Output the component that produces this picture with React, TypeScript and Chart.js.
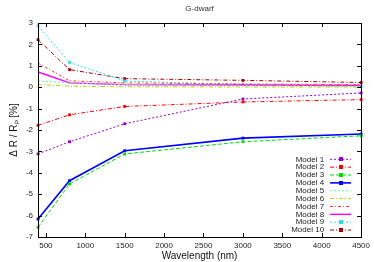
import React, { useEffect, useRef } from "react";
import { Chart, registerables } from "chart.js";

Chart.register(...registerables);

const wavelengths = [400, 800, 1500, 3000, 4500];
const model1 = [-3.12, -2.55, -1.71, -0.55, -0.27];
const model2 = [-1.78, -1.29, -0.9, -0.69, -0.58];
const model3 = [-6.55, -4.52, -3.12, -2.55, -2.27];
const model4 = [-6.16, -4.37, -2.97, -2.38, -2.19];
const model5 = [0.3, 0.2, 0.12, 0.07, 0.05];
const model6 = [0.12, 0.05, 0.02, 0.01, 0.01];
const model7 = [1.13, 0.3, 0.2, 0.15, 0.12];
const model8 = [0.71, 0.2, 0.12, 0.1, 0.08];
const model9 = [2.87, 1.16, 0.29, 0.12, 0.04];
const model10 = [2.22, 0.82, 0.4, 0.32, 0.22];
const xTicks = [500, 1000, 1500, 2000, 2500, 3000, 3500, 4000, 4500];
const title = "G-dwarf";

const FONT = "'Liberation Sans', Arial, sans-serif";

type Style = { label: string; values: number[]; color: string; dash: number[]; width: number; point: boolean };

const series: Style[] = [
  { label: "Model 1", values: model1, color: "#9400d3", dash: [2, 2], width: 1, point: true },
  { label: "Model 2", values: model2, color: "#ff0000", dash: [4, 2, 1, 2], width: 1, point: true },
  { label: "Model 3", values: model3, color: "#00dd00", dash: [4, 2], width: 1, point: true },
  { label: "Model 4", values: model4, color: "#0000ff", dash: [], width: 1.6, point: true },
  { label: "Model 5", values: model5, color: "#55f5a5", dash: [2, 2], width: 1, point: false },
  { label: "Model 6", values: model6, color: "#c8c800", dash: [4, 2, 1, 2], width: 1, point: false },
  { label: "Model 7", values: model7, color: "#ff3030", dash: [3, 2, 1, 2], width: 1, point: false },
  { label: "Model 8", values: model8, color: "#ff00ff", dash: [], width: 1.4, point: false },
  { label: "Model 9", values: model9, color: "#30dcdc", dash: [2, 2], width: 1, point: true },
  { label: "Model 10", values: model10, color: "#a00000", dash: [4, 2, 1, 2], width: 1, point: true },
];

const framePlugin = {
  id: "frame",
  afterDraw(chart: any) {
    const { ctx, chartArea: a } = chart;
    const xs = chart.scales.x;
    const ys = chart.scales.y;
    ctx.save();
    ctx.strokeStyle = "#000";
    ctx.lineWidth = 1;
    ctx.setLineDash([]);
    ctx.strokeRect(Math.round(a.left) + 0.5, Math.round(a.top) + 0.5, Math.round(a.right - a.left), Math.round(a.bottom - a.top));
    const t = 4;
    ctx.beginPath();
    xs.ticks.forEach((tk: any) => {
      const px = Math.round(xs.getPixelForValue(tk.value)) + 0.5;
      ctx.moveTo(px, a.bottom);
      ctx.lineTo(px, a.bottom - t);
      ctx.moveTo(px, a.top);
      ctx.lineTo(px, a.top + t);
    });
    ys.ticks.forEach((tk: any) => {
      const py = Math.round(ys.getPixelForValue(tk.value)) + 0.5;
      ctx.moveTo(a.left, py);
      ctx.lineTo(a.left + t, py);
      ctx.moveTo(a.right, py);
      ctx.lineTo(a.right - t, py);
    });
    ctx.stroke();

    // title
    ctx.fillStyle = "#333";
    ctx.font = `8px ${FONT}`;
    ctx.textAlign = "center";
    ctx.textBaseline = "middle";
    ctx.fillText(title, (a.left + a.right) / 2, 9);

    // legend
    const rowH = 7.86;
    const firstY = a.bottom - 77.7;
    chart.data.datasets.forEach((ds: any, i: number) => {
      const y = firstY + i * rowH;
      ctx.fillStyle = "#222";
      ctx.font = `8px ${FONT}`;
      ctx.textAlign = "right";
      ctx.textBaseline = "middle";
      ctx.fillText(ds.label, a.right - 37, y);
      ctx.strokeStyle = ds.borderColor;
      ctx.lineWidth = ds.borderWidth;
      ctx.setLineDash(ds.borderDash || []);
      ctx.beginPath();
      ctx.moveTo(a.right - 31, y);
      ctx.lineTo(a.right - 10, y);
      ctx.stroke();
      ctx.setLineDash([]);
      if (ds.pointRadius > 0) {
        ctx.fillStyle = ds.borderColor;
        ctx.fillRect(Math.round(a.right - 22.5), Math.round(y - 2), 4, 4);
      }
    });
    ctx.restore();
  },
};

export default function App() {
  const ref = useRef<HTMLCanvasElement | null>(null);
  useEffect(() => {
    document.body.style.margin = "0";
    const canvas = ref.current;
    if (!canvas) return;
    const chart = new Chart(canvas, {
      type: "line",
      data: {
        datasets: series.map((s) => ({
          label: s.label,
          data: wavelengths.map((w, i) => ({ x: w, y: s.values[i] })),
          borderColor: s.color,
          backgroundColor: s.color,
          borderDash: s.dash,
          borderWidth: s.width,
          pointRadius: s.point ? 2 : 0,
          pointStyle: "rect",
          pointBorderWidth: 0,
          fill: false,
          tension: 0,
          clip: false as any,
        })),
      },
      options: {
        animation: false,
        responsive: false,
        maintainAspectRatio: false,
        layout: { padding: { top: 23, right: 12, left: 0, bottom: 0 } },
        plugins: { legend: { display: false }, tooltip: { enabled: false }, title: { display: false } },
        scales: {
          x: {
            type: "linear",
            min: 400,
            max: 4500,
            afterBuildTicks: (scale: any) => {
              scale.ticks = xTicks.map((v) => ({ value: v }));
            },
            afterFit: (scale: any) => {
              scale.height = 25;
            },
            grid: { display: false, drawTicks: false },
            border: { display: false },
            ticks: {
              color: "#222",
              font: { size: 8, family: FONT },
              padding: 4,
              maxRotation: 0,
              autoSkip: false,
              callback: (v: any) => String(v),
            },
            title: { display: true, text: "Wavelength (nm)", color: "#111", font: { size: 10, family: FONT }, padding: 0 },
          },
          y: {
            type: "linear",
            min: -7,
            max: 3,
            afterFit: (scale: any) => {
              scale.width = 38;
            },
            grid: { display: false, drawTicks: false },
            border: { display: false },
            ticks: { stepSize: 1, color: "#222", font: { size: 8, family: FONT }, padding: 5 },
            title: { display: true, text: "Δ R / Rₚ [%]", color: "#111", font: { size: 10, family: FONT }, padding: { top: 8, bottom: 0 } },
          },
        },
      },
      plugins: [framePlugin],
    });
    return () => chart.destroy();
  }, []);
  return (
    <div style={{ width: 374, height: 262 }}>
      <canvas ref={ref} width={374} height={262} style={{ width: 374, height: 262 }} />
    </div>
  );
}
